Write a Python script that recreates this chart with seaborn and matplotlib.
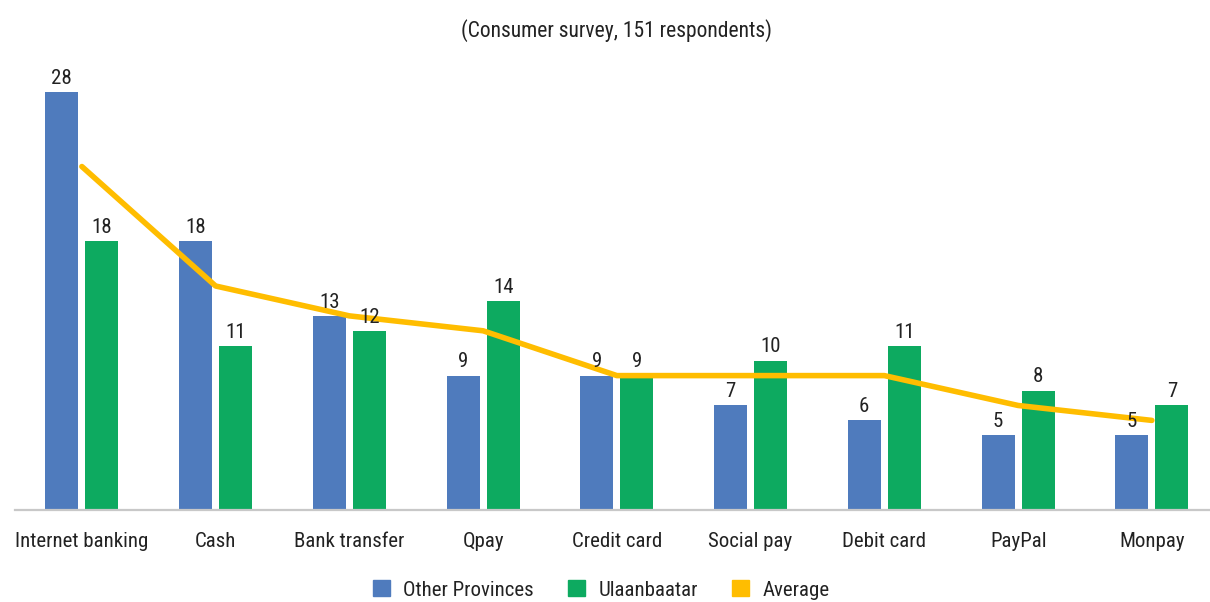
import numpy as np
import pandas as pd
import seaborn as sns
import matplotlib.pyplot as plt
from matplotlib import font_manager
from matplotlib.patches import Patch

# --- 数据 ---
categories = ['Internet banking', 'Cash', 'Bank transfer', 'Qpay', 'Credit card',
              'Social pay', 'Debit card', 'PayPal', 'Monpay']
other_provinces = [28, 18, 13, 9, 9, 7, 6, 5, 5]
ulaanbaatar = [18, 11, 12, 14, 9, 10, 11, 8, 7]
average = [23, 15, 13, 12, 9, 9, 9, 7, 6]
series_names = ['Other Provinces', 'Ulaanbaatar', 'Average']
title_text = '(Consumer survey, 151 respondents)'

BLUE = '#4F7BBD'; GREEN = '#0DAA60'; GOLD = '#FFBD00'

# 字体：选第一个可用的窄体
available = set(f.name for f in font_manager.fontManager.ttflist)
font_pick = 'DejaVu Sans'
for cand in ['Roboto Condensed', 'Liberation Sans Narrow', 'Archivo Narrow',
             'PT Sans Narrow', 'Pragati Narrow', 'IBM Plex Sans Condensed', 'Fira Sans Condensed']:
    if cand in available:
        font_pick = cand
        break

sns.set_style('white')
plt.rcParams['font.family'] = [font_pick, 'DejaVu Sans']
plt.rcParams['text.color'] = '#222222'

df = pd.DataFrame({
    'category': categories * 2,
    'value': other_provinces + ulaanbaatar,
    'series': [series_names[0]] * len(categories) + [series_names[1]] * len(categories),
})

fig = plt.figure(figsize=(12.1, 6.02), dpi=100)
ax = fig.add_axes([15 / 1210, 92 / 602, 1203.75 / 1210, 448 / 602])

sns.barplot(data=df, x='category', y='value', hue='series', order=categories,
            hue_order=series_names[:2], palette=[BLUE, GREEN], width=0.6, gap=0.18,
            saturation=1, legend=False, edgecolor='none', linewidth=0, ax=ax)
for cont in ax.containers:
    ax.bar_label(cont, padding=3, fontsize=15, color='#222222')

line_df = pd.DataFrame({'category': categories, 'value': average})
sns.lineplot(data=line_df, x='category', y='value', sort=False, color=GOLD,
             linewidth=4.0, ax=ax, zorder=1.5, solid_capstyle='round', solid_joinstyle='round')

ax.set_xlim(-0.5, len(categories) - 0.5)
ax.set_ylim(0, 30)
ax.set_xlabel(''); ax.set_ylabel('')
ax.set_yticks([])
for s in ['top', 'right', 'left']:
    ax.spines[s].set_visible(False)
ax.spines['bottom'].set_color('#C8C8C8')
ax.spines['bottom'].set_linewidth(1.6)
ax.set_xticks(np.arange(-0.5, len(categories), 1.0), minor=True)
ax.tick_params(axis='x', which='minor', length=7, width=1.6, color='#C8C8C8', direction='out')
ax.tick_params(axis='x', which='major', length=0, pad=16, labelsize=15, labelcolor='#222222')
ax.set_title(title_text, fontsize=15.5, pad=18, color='#222222')

handles = [Patch(color=BLUE), Patch(color=GREEN), Patch(color=GOLD)]
fig.legend(handles, series_names, loc='lower center', bbox_to_anchor=(0.497, -0.027), ncol=3,
           frameon=False, fontsize=15, handlelength=0.8, handleheight=0.8,
           columnspacing=1.65, handletextpad=0.65)

fig.savefig('out.png', dpi=100)
